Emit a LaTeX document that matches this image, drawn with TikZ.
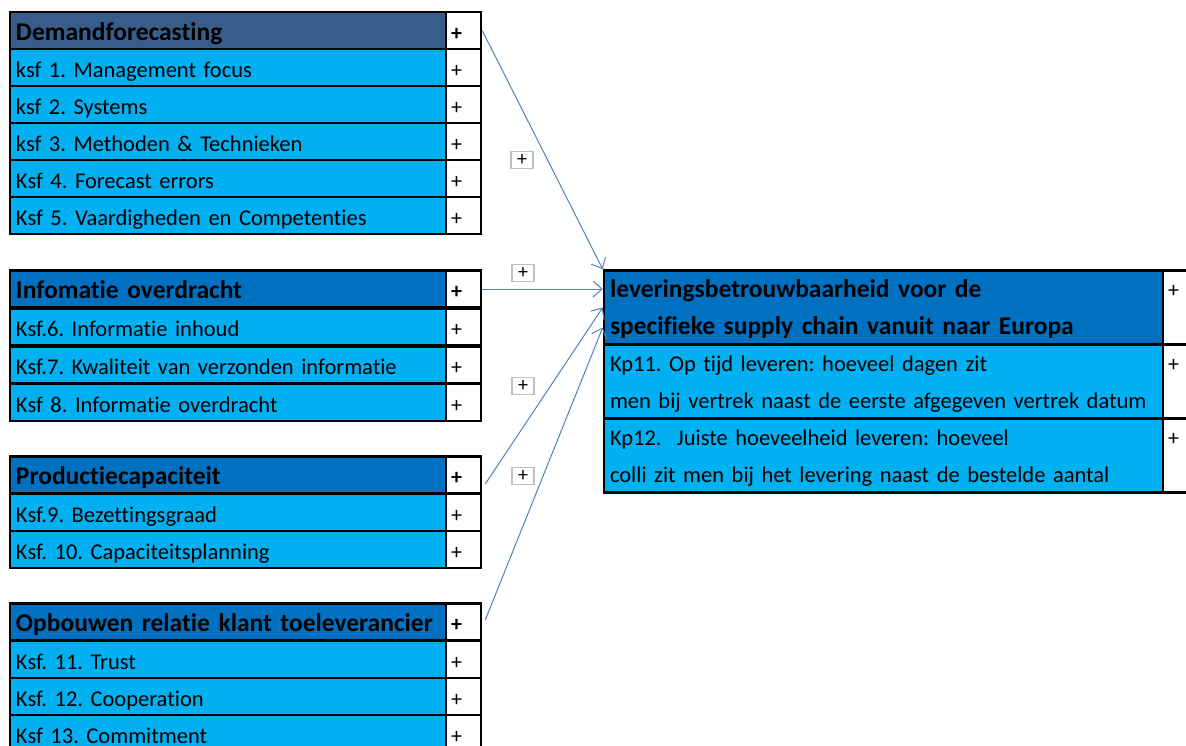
\documentclass[tikz,border=0pt]{standalone}
\usepackage{fontspec}
\setmainfont[Ligatures=NoCommon]{Carlito}
\usetikzlibrary{arrows.meta}
\definecolor{kopdonker}{HTML}{385D8A}
\definecolor{kopblauw}{HTML}{0070C0}
\definecolor{rijblauw}{HTML}{00B0F0}
\definecolor{pijlblauw}{HTML}{4F81BD}
\frenchspacing
\tikzset{
  cel/.style={draw=black, line width=2.5pt, rectangle, inner xsep=6pt, inner ysep=0pt,
    text width=424pt, minimum height=37pt, align=left, text height=20pt, text depth=1pt,
    font=\fontsize{22.5}{24}\selectfont},
  kop/.style={cel, fill=kopblauw, font=\bfseries\fontsize{25.5}{26}\selectfont},
  rij/.style={cel, fill=rijblauw},
  plus/.style={draw=black, line width=2.5pt, fill=white, minimum width=35pt,
    minimum height=37pt, inner xsep=5pt, inner ysep=0pt, text width=25pt, align=left,
    text height=20pt, text depth=1pt, font=\fontsize{22}{24}\selectfont},
  doelcel/.style={cel, text width=547pt, minimum height=74pt, text height=10pt,
    text depth=31pt, font=\fontsize{22.5}{37}\selectfont},
  doelplus/.style={plus, minimum width=25pt, text width=15pt, minimum height=74pt,
    text height=10pt, text depth=31pt, font=\fontsize{22}{37}\selectfont},
  teken/.style={draw=black!25, line width=1.2pt, fill=white, minimum width=22pt,
    minimum height=17pt, inner sep=0pt, font=\fontsize{20}{20}\selectfont},
  pijl/.style={draw=pijlblauw, line width=1pt, -{Straight Barb[length=9pt,width=16pt]}}
}
\begin{document}
\begin{tikzpicture}[x=1pt,y=-1pt]
\useasboundingbox (0,0) rectangle (1186,745);
% groep 1
\node[kop, fill=kopdonker] (df) at (228,30.5) {Demandforecasting};
\node[plus] (dfp) at (463.5,30.5) {\textbf{+}};
\node[rij] (ksf1) at (228,67.5) {ksf 1. Management focus};
\node[plus] (ksf1p) at (463.5,67.5) {+};
\node[rij] (ksf2) at (228,104.5) {ksf 2. Systems};
\node[plus] (ksf2p) at (463.5,104.5) {+};
\node[rij] (ksf3) at (228,141.5) {ksf 3. Methoden \& Technieken};
\node[plus] (ksf3p) at (463.5,141.5) {+};
\node[rij] (ksf4) at (228,178.5) {Ksf 4. Forecast errors};
\node[plus] (ksf4p) at (463.5,178.5) {+};
\node[rij] (ksf5) at (228,215.5) {Ksf 5. Vaardigheden en Competenties};
\node[plus] (ksf5p) at (463.5,215.5) {+};
% groep 2
\node[kop] (io) at (228,289) {Infomatie overdracht};
\node[plus] (iop) at (463.5,289) {\textbf{+}};
\node[rij] (ksf6) at (228,327) {Ksf.6. Informatie inhoud};
\node[plus] (ksf6p) at (463.5,327) {+};
\node[rij] (ksf7) at (228,365) {Ksf.7. Kwaliteit van verzonden informatie};
\node[plus] (ksf7p) at (463.5,365) {+};
\node[rij] (ksf8) at (228,402.5) {Ksf 8. Informatie overdracht};
\node[plus] (ksf8p) at (463.5,402.5) {+};
% groep 3
\node[kop] (pc) at (228,475) {Productiecapaciteit};
\node[plus] (pcp) at (463.5,475) {\textbf{+}};
\node[rij] (ksf9) at (228,512.5) {Ksf.9. Bezettingsgraad};
\node[plus] (ksf9p) at (463.5,512.5) {+};
\node[rij] (ksf10) at (228,549.5) {Ksf. 10. Capaciteitsplanning};
\node[plus] (ksf10p) at (463.5,549.5) {+};
% groep 4
\node[kop] (ob) at (228,622) {Opbouwen relatie klant toeleverancier};
\node[plus] (obp) at (463.5,622) {\textbf{+}};
\node[rij] (ksf11) at (228,659.5) {Ksf. 11. Trust};
\node[plus] (ksf11p) at (463.5,659.5) {+};
\node[rij] (ksf12) at (228,696.5) {Ksf. 12. Cooperation};
\node[plus] (ksf12p) at (463.5,696.5) {+};
\node[rij] (ksf13) at (228,733.5) {Ksf 13. Commitment};
\node[plus] (ksf13p) at (463.5,733.5) {+};
% doel
\node[doelcel, fill=kopblauw, font=\bfseries\fontsize{25.5}{37}\selectfont] (doel) at (883.5,307.5)
  {leveringsbetrouwbaarheid voor de\\specifieke supply chain vanuit naar Europa};
\node[doelplus] (doelp) at (1175.5,307.5) {+\\\mbox{}};
\node[doelcel, fill=rijblauw] (kp11) at (883.5,382)
  {Kp11. Op tijd leveren: hoeveel dagen zit\\men bij vertrek naast de eerste afgegeven vertrek datum};
\node[doelplus] (kp11p) at (1175.5,382) {+\\\mbox{}};
\node[doelcel, fill=rijblauw] (kp12) at (883.5,455.5)
  {Kp12.\ \ Juiste hoeveelheid leveren: hoeveel\\colli zit men bij het levering naast de bestelde aantal};
\node[doelplus] (kp12p) at (1175.5,455.5) {+\\\mbox{}};
% pijlen
\draw[pijl] (dfp.east) -- (doel.north west);
\draw[pijl] (iop.east) -- (iop.east -| doel.west);
\draw[pijl] ([shift={(3pt,-9pt)}]pcp.east) -- (doel.west);
\draw[pijl] ([shift={(3pt,2pt)}]obp.east) -- ([yshift=-20pt]doel.west);
\node[teken] (t1) at (522,160) {+};
\node[teken] (t2) at (523,273) {+};
\node[teken] (t3) at (523,386) {+};
\node[teken] (t4) at (523,476) {+};
\end{tikzpicture}
\end{document}
